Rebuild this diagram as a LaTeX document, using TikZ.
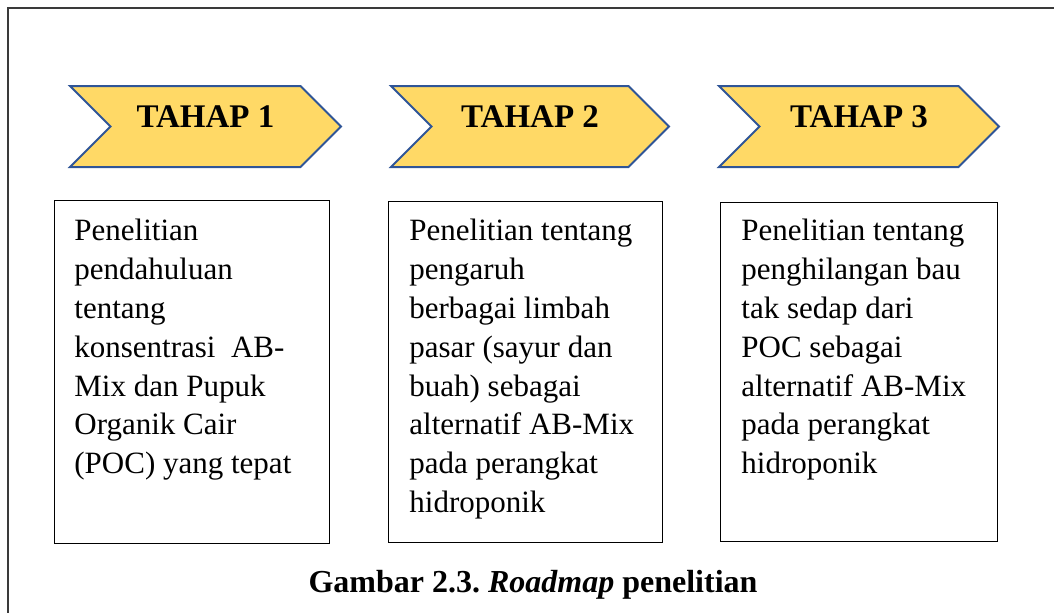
\documentclass[tikz,border=0pt]{standalone}
\usepackage{fontspec}
\setmainfont{Liberation Serif}
\usetikzlibrary{shapes.symbols, calc, positioning}
\definecolor{rmGold}{HTML}{FFD966}
\definecolor{rmBlue}{HTML}{2F5597}
\definecolor{rmFrame}{HTML}{3A3A3A}
\frenchspacing
\tikzset{
  rm-tahap/.style={
    signal, signal from=west, signal to=east, signal pointer angle=90,
    draw=rmBlue, fill=rmGold, line width=1pt,
    minimum height=40.5pt, inner sep=0pt,
    text height=11pt, text depth=9.8pt,
    font=\fontsize{16.5}{19}\selectfont\bfseries
  },
  rm-box/.style={
    rectangle, draw=black, line width=0.6pt, inner sep=0pt, anchor=north west
  },
  rm-text/.style={
    anchor=north west, inner sep=0pt, align=left,
    font=\fontsize{15.5}{19.4}\selectfont
  },
  rm-caption/.style={
    anchor=base, inner sep=0pt, font=\fontsize{16}{19}\selectfont\bfseries
  },
}

\begin{document}
\begin{tikzpicture}[x=0.5pt, y=-0.5pt]
  \useasboundingbox (0,0) rectangle (1054,612);
  \clip (0,0) rectangle (1054,612);
  \draw[rmFrame, line width=1pt] (8,8) rectangle (1070,630);

  % stages
  \node[rm-tahap, minimum width=135.5pt] (t1) at (205.5,126.5) {TAHAP 1};
  \node[rm-tahap, minimum width=139pt]   (t2) at (530,126.5)   {TAHAP 2};
  \node[rm-tahap, minimum width=140pt]   (t3) at (859,126.5)   {TAHAP 3};

  % descriptions
  \node[rm-box, minimum width=137.5pt, minimum height=171.5pt] (b1) at (54,200) {};
  \node[rm-box, minimum width=137pt, minimum height=170.5pt]   (b2) at (388,201) {};
  \node[rm-box, minimum width=138.5pt, minimum height=169.5pt] (b3) at (720,202) {};

  \node[rm-text] (d1) at ($(b1.north west)+(20,19)$)
    {Penelitian\\pendahuluan\\tentang\\konsentrasi~ AB-\\Mix dan Pupuk\\Organik Cair\\(POC) yang tepat};
  \node[rm-text] (d2) at ($(b2.north west)+(21,18)$)
    {Penelitian tentang\\pengaruh\\berbagai limbah\\pasar (sayur dan\\buah) sebagai\\alternatif AB-Mix\\pada perangkat\\hidroponik};
  \node[rm-text] (d3) at ($(b3.north west)+(21,17)$)
    {Penelitian tentang\\penghilangan bau\\tak sedap dari\\POC sebagai\\alternatif AB-Mix\\pada perangkat\\hidroponik};

  \node[rm-caption] (cap) at (533,592) {Gambar 2.3. \textit{Roadmap} penelitian};
\end{tikzpicture}
\end{document}
